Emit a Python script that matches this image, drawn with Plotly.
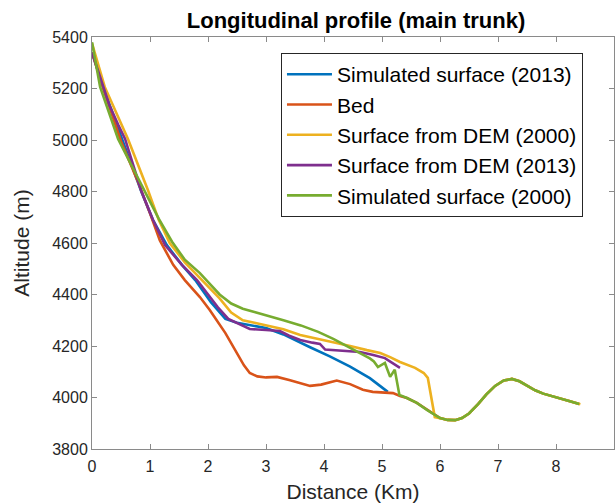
import plotly.graph_objects as go

# ---- data ----
x_sim2013 = [0, 0.1, 0.2, 0.5, 0.85, 1.05, 1.29, 1.55, 1.78, 2.05, 2.3, 2.5, 2.75, 3.0, 3.3, 3.59, 3.76, 4.1, 4.45, 4.79, 5.1]
y_sim2013 = [5340, 5265, 5200, 5015, 4800, 4690, 4592, 4515, 4456, 4370, 4305, 4290, 4280, 4270, 4245, 4212, 4195, 4160, 4120, 4075, 4022]

x_bed = [0, 0.2, 0.5, 0.78, 1.0, 1.17, 1.4, 1.6, 1.86, 2.03, 2.3, 2.5, 2.62, 2.72, 2.85, 3.0, 3.19, 3.4, 3.59,
         3.76, 3.95, 4.22, 4.45, 4.67, 4.84, 5.19, 5.31, 5.43, 5.6, 5.78, 6.0, 6.13, 6.26, 6.38, 6.5, 6.66,
         6.8, 6.95, 7.1, 7.24, 7.37, 7.5, 7.64, 7.78, 7.92, 8.07, 8.24, 8.4]
y_bed = [5340, 5195, 4995, 4845, 4715, 4610, 4515, 4456, 4390, 4340, 4250, 4175, 4125, 4095, 4082, 4078, 4080, 4068, 4055,
         4045, 4050, 4066, 4052, 4030, 4022, 4017, 4006, 3998, 3979, 3951, 3920, 3913, 3912, 3920, 3938, 3975,
         4012, 4045, 4066, 4072, 4063, 4046, 4028, 4015, 4005, 3996, 3985, 3975]

x_dem2000 = [0, 0.22, 0.62, 0.97, 1.15, 1.34, 1.6, 1.86, 2.05, 2.2, 2.4, 2.6, 2.8, 3.0, 3.3, 3.59, 3.9, 4.16, 4.45, 4.74, 4.97,
             5.14, 5.31, 5.57, 5.72, 5.79, 5.91, 6.0, 6.13, 6.26, 6.38, 6.5, 6.66, 6.8, 6.95, 7.1, 7.24, 7.37,
             7.5, 7.64, 7.78, 7.92, 8.07, 8.24, 8.42]
y_dem2000 = [5375, 5206, 5004, 4802, 4690, 4600, 4525, 4464, 4420, 4385, 4330, 4300, 4290, 4281, 4265, 4243, 4228, 4215, 4200, 4184, 4173,
             4157, 4138, 4115, 4095, 4076, 3924, 3920, 3913, 3912, 3920, 3938, 3975, 4012, 4045, 4066, 4072, 4063,
             4046, 4028, 4015, 4005, 3996, 3985, 3974]

x_dem2013 = [0, 0.1, 0.19, 0.3, 0.45, 0.57, 0.85, 1.05, 1.26, 1.55, 1.81, 2.0, 2.17, 2.35, 2.5, 2.72, 3.0, 3.24, 3.4, 3.59, 3.8,
             3.93, 4.02, 4.3, 4.62, 4.85, 5.05, 5.31]
y_dem2013 = [5340, 5270, 5206, 5135, 5060, 5004, 4802, 4690, 4592, 4515, 4456, 4400, 4350, 4305, 4288, 4266, 4262, 4258, 4240, 4223, 4213,
             4208, 4186, 4182, 4177, 4165, 4153, 4115]

x_sim2000 = [0, 0.14, 0.45, 0.91, 1.15, 1.38, 1.6, 1.86, 2.05, 2.2, 2.4, 2.6, 2.8, 3.0, 3.3, 3.6, 3.9, 4.16, 4.4, 4.62, 4.79,
             4.86, 4.93, 5.05, 5.14, 5.22, 5.30, 5.43, 5.6, 5.78, 6.0, 6.13, 6.26, 6.38, 6.5, 6.66, 6.8, 6.95,
             7.1, 7.24, 7.37, 7.5, 7.64, 7.78, 7.92, 8.07, 8.24, 8.4]
y_sim2000 = [5380, 5206, 5004, 4802, 4695, 4605, 4535, 4483, 4435, 4400, 4365, 4345, 4332, 4318, 4300, 4280, 4255, 4228, 4200, 4175, 4152,
             4140, 4118, 4134, 4080, 4108, 4010, 3998, 3979, 3951, 3920, 3913, 3912, 3920, 3938, 3975, 4012, 4045,
             4066, 4072, 4063, 4046, 4028, 4015, 4005, 3996, 3985, 3975]

series = [
    ("Simulated surface (2013)", x_sim2013, y_sim2013, "#0072BD"),
    ("Bed", x_bed, y_bed, "#D95319"),
    ("Surface from DEM (2000)", x_dem2000, y_dem2000, "#EDB120"),
    ("Surface from DEM (2013)", x_dem2013, y_dem2013, "#7E2F8E"),
    ("Simulated surface (2000)", x_sim2000, y_sim2000, "#77AC30"),
]

x_ticks = list(range(0, 10))
y_ticks = list(range(3800, 5401, 200))

FONT = "Liberation Sans, Arial, Helvetica, sans-serif"

fig = go.Figure()
for name, xs, ys, col in series:
    fig.add_trace(go.Scatter(x=xs, y=ys, mode="lines", name=name,
                             line=dict(color=col, width=2.6)))

axis_common = dict(
    showgrid=False, zeroline=False, showline=True, linecolor="#8a8a8a", linewidth=1,
    mirror="ticks", ticks="inside", ticklen=5, tickcolor="#8a8a8a", tickwidth=1,
    tickfont=dict(family=FONT, size=16, color="#262626"),
)

fig.update_layout(
    width=616, height=504,
    margin=dict(l=92, r=2, t=37, b=55),
    paper_bgcolor="white", plot_bgcolor="white",
    font=dict(family=FONT, color="#262626"),
    title=dict(text="<b>Longitudinal profile (main trunk)</b>", x=0.578, xanchor="center",
               y=1 - 20 / 504, yanchor="middle", yref="container",
               font=dict(family=FONT, size=22, color="black")),
    xaxis=dict(range=[0, 9], tickvals=x_ticks, ticklabelstandoff=3,
               title=dict(text="Distance (Km)", font=dict(family=FONT, size=21, color="#262626"), standoff=10),
               **axis_common),
    yaxis=dict(range=[3800, 5400], tickvals=y_ticks,
               title=dict(text="Altitude (m)", font=dict(family=FONT, size=21, color="#262626"), standoff=16),
               **axis_common),
    legend=dict(x=0.362, y=0.961, xanchor="left", yanchor="top",
                bgcolor="white", bordercolor="#262626", borderwidth=1,
                font=dict(family=FONT, size=21, color="black"),
                itemwidth=45, tracegroupgap=0),
    showlegend=True,
)

fig.write_html("out.html")
